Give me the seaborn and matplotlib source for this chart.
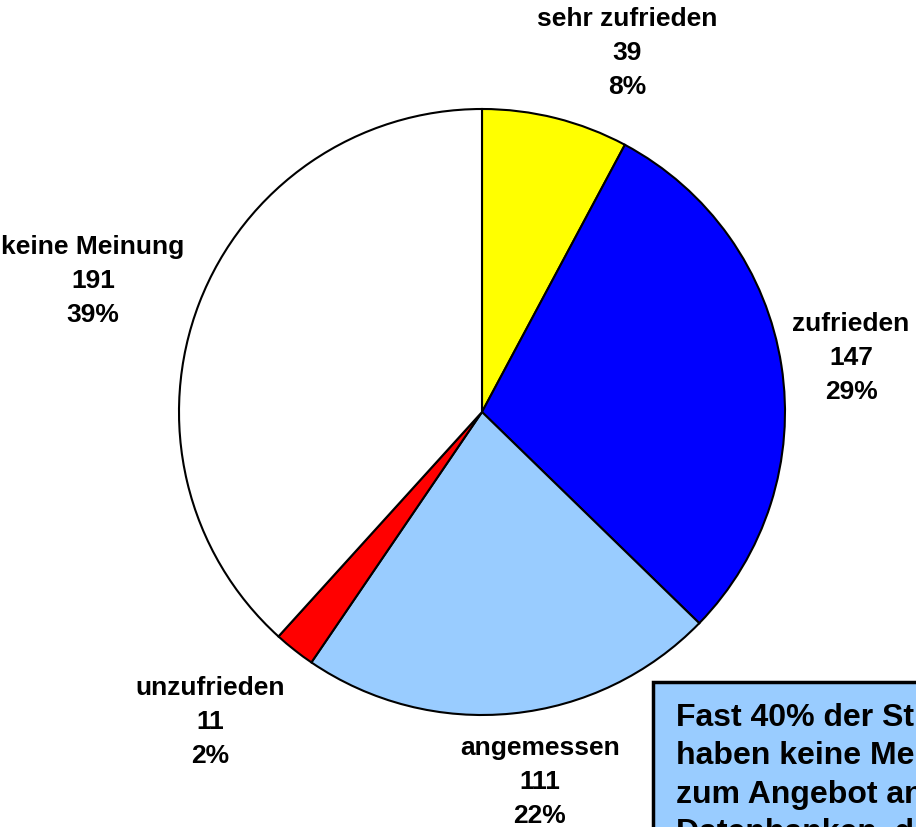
import matplotlib
matplotlib.use("Agg")
import matplotlib.pyplot as plt
import seaborn as sns
from matplotlib.patches import Rectangle

categories = ["sehr zufrieden", "zufrieden", "angemessen", "unzufrieden", "keine Meinung"]
counts = [39, 147, 111, 11, 191]
percents = ["8%", "29%", "22%", "2%", "39%"]
colors = ["#FFFF00", "#0000FF", "#99CCFF", "#FF0000", "#FFFFFF"]
# label anchor: (center x, first-line baseline) in pixels from top-left
label_pos_px = [(627, 26), (851, 331), (540, 755), (210, 695), (93, 254)]
note_lines = ["Fast 40% der Studierenden", "haben keine Meinung", "zum Angebot an",
              "Datenbanken, die"]

sns.set_theme(style="white")
plt.rcParams['font.family'] = ['Liberation Sans', 'DejaVu Sans']

W, H = 916, 828
fig = plt.figure(figsize=(W / 100, H / 100), dpi=100)
fig.patch.set_facecolor("white")

cx, cy, r = 482, 413, 303
ax = fig.add_axes([(cx - r) / W, (H - cy - r) / H, 2 * r / W, 2 * r / H])
ax.pie(counts, colors=colors, startangle=90, counterclock=False,
       wedgeprops=dict(edgecolor="black", linewidth=1.5), radius=1.0)
ax.set_xlim(-1, 1)
ax.set_ylim(-1, 1)
ax.set_aspect("equal")
ax.axis("off")

step = 34
for cat, n, p, (px, py) in zip(categories, counts, percents, label_pos_px):
    for i, line in enumerate([cat, str(n), p]):
        fig.text(px / W, 1 - (py + i * step) / H, line, ha="center", va="baseline",
                 fontsize=19, fontweight="bold", color="black")

# note box (partly outside the figure)
bx, by = 653, 683
rect = Rectangle((bx / W, -0.1), 1.0, (H - by) / H + 0.1, transform=fig.transFigure,
                 facecolor="#99CCFF", edgecolor="black", linewidth=2.5, clip_on=False)
fig.patches.append(rect)
note_step = 38.5
for i, line in enumerate(note_lines):
    fig.text(676 / W, 1 - (726 + i * note_step) / H, line, ha="left", va="baseline",
             fontsize=23, fontweight="bold", color="black")

fig.savefig("out.png", dpi=100)
